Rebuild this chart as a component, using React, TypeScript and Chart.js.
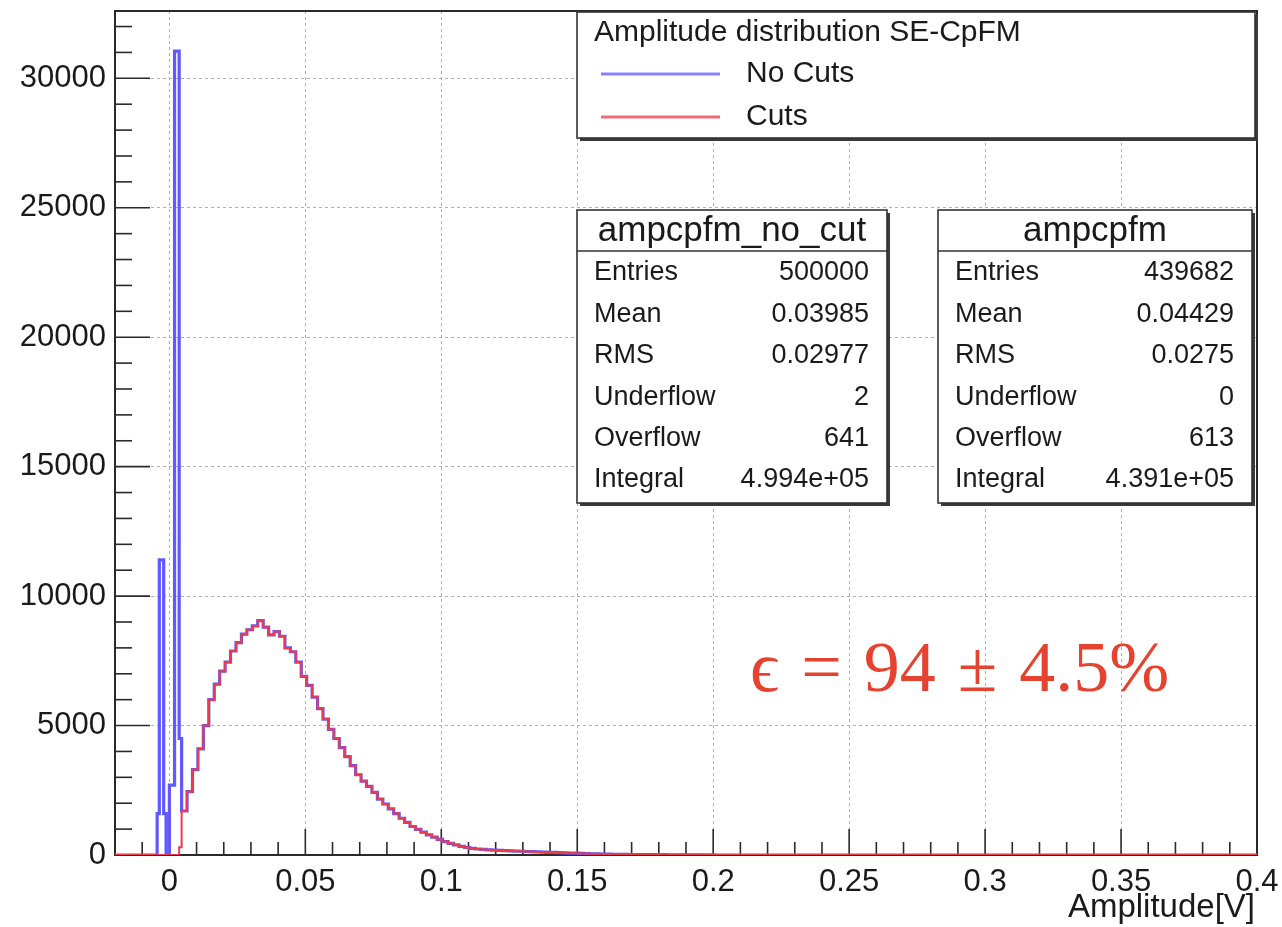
import React, { useEffect, useRef } from "react";
import { Chart, registerables } from "chart.js";

Chart.register(...registerables);

// ---- axis ticks ----
const xTickValues = [0, 0.05, 0.1, 0.15, 0.2, 0.25, 0.3, 0.35, 0.4];
const xTickLabels = ["0", "0.05", "0.1", "0.15", "0.2", "0.25", "0.3", "0.35", "0.4"];
const yTickValues = [0, 5000, 10000, 15000, 20000, 25000, 30000];
const yTickLabels = ["0", "5000", "10000", "15000", "20000", "25000", "30000"];

// ---- histogram: bin low edges near zero (spike region) ----
const spikeEdges = [-0.02, -0.0045, -0.0037, -0.0021, -0.0012, 0.0, 0.0019, 0.0036];
const spikeNoCuts = [0, 1600, 11400, 1600, 0, 2700, 31050, 4500];
const spikeCuts = [0, 0, 0, 0, 0, 0, 0, 300];

// ---- histogram: main distribution (shared by both series) ----
const bulkStart = 0.0045;
const bulkBinWidth = 0.002;
const bulkCounts = [
  1700, 2450, 3300, 4100, 5000, 6000, 6600, 7100, 7450, 7880,
  8200, 8530, 8700, 8850, 9050, 8800, 8500, 8630, 8450, 8000,
  7850, 7450, 6900, 6550, 6100, 5650, 5250, 4850, 4500, 4150,
  3800, 3450, 3100, 2850, 2650, 2420, 2160, 1970, 1780, 1600,
  1420, 1260, 1100, 990, 880, 780, 690, 600, 520, 450,
  390, 330, 290, 255, 232, 215, 200, 190, 180, 170,
  160, 150, 145, 135, 128, 120, 112, 105, 98, 90,
  84, 76, 70, 62, 55, 48, 42, 36, 31, 28,
  25, 23, 20, 19, 17, 15, 14, 12, 11, 10,
  9, 8, 7, 6, 5, 5, 4, 3,
];
const tailEdges = [0.2005, 0.4];
const tailCounts = [0, 0];

// ---- stats boxes ----
const statLabels = ["Entries", "Mean", "RMS", "Underflow", "Overflow", "Integral"];
const noCutStats = ["500000", "0.03985", "0.02977", "2", "641", "4.994e+05"];
const cutStats = ["439682", "0.04429", "0.0275", "0", "613", "4.391e+05"];
const noCutName = "ampcpfm_no_cut";
const cutName = "ampcpfm";

const legendTitle = "Amplitude distribution SE-CpFM";
const seriesNames = ["No Cuts", "Cuts"];
const xTitle = "Amplitude[V]";
const effParts = ["\u03f5", "=", "94", "\u00b1", "4.5%"];

const BLUE = "rgb(98, 88, 255)";
const RED = "rgb(236, 58, 72)";
const SANS = "'Liberation Sans', Arial, Helvetica, sans-serif";
const SERIF = "'Liberation Serif', 'DejaVu Serif', serif";

function buildSeries(spike: number[]) {
  const pts: { x: number; y: number }[] = [];
  spikeEdges.forEach((x, i) => pts.push({ x, y: spike[i] }));
  bulkCounts.forEach((c, i) => pts.push({ x: bulkStart + i * bulkBinWidth, y: c }));
  tailEdges.forEach((x, i) => pts.push({ x, y: tailCounts[i] }));
  return pts;
}

function drawPave(ctx: CanvasRenderingContext2D, x: number, y: number, w: number, h: number) {
  ctx.fillStyle = "#3a3a3a";
  ctx.fillRect(x + 3, y + 3, w, h);
  ctx.fillStyle = "#ffffff";
  ctx.fillRect(x, y, w, h);
  ctx.strokeStyle = "#333";
  ctx.lineWidth = 1.6;
  ctx.strokeRect(x, y, w, h);
}

function drawStats(
  ctx: CanvasRenderingContext2D,
  x: number,
  w: number,
  name: string,
  values: string[]
) {
  const top = 210;
  const h = 293;
  drawPave(ctx, x, top, w, h);
  ctx.beginPath();
  ctx.moveTo(x, top + 41);
  ctx.lineTo(x + w, top + 41);
  ctx.stroke();
  ctx.fillStyle = "#1a1a1a";
  ctx.textBaseline = "middle";
  ctx.font = `35px ${SANS}`;
  ctx.textAlign = "center";
  ctx.fillText(name, x + w / 2, top + 21);
  ctx.font = `27px ${SANS}`;
  statLabels.forEach((lab, i) => {
    const cy = 273 + i * 41.4;
    ctx.textAlign = "left";
    ctx.fillText(lab, x + 17, cy);
    ctx.textAlign = "right";
    ctx.fillText(values[i], x + w - 18, cy);
  });
}

const rootStyle = {
  id: "rootStyle",
  beforeDatasetsDraw(chart: any) {
    const { ctx, chartArea: a, scales } = chart;
    const xs = scales.x;
    const ys = scales.y;
    ctx.save();
    ctx.strokeStyle = "#2a2a2a";
    ctx.lineWidth = 1.6;
    for (let k = -2; k <= 40; k++) {
      const px = xs.getPixelForValue(k / 100);
      const len = k % 5 === 0 ? 26 : 13;
      ctx.beginPath();
      ctx.moveTo(px, a.bottom);
      ctx.lineTo(px, a.bottom - len);
      ctx.stroke();
    }
    for (let k = 0; k <= 32; k++) {
      const py = ys.getPixelForValue(k * 1000);
      const len = k % 5 === 0 ? 35 : 17;
      ctx.beginPath();
      ctx.moveTo(a.left, py);
      ctx.lineTo(a.left + len, py);
      ctx.stroke();
    }
    ctx.lineWidth = 2;
    ctx.strokeRect(a.left, a.top, a.right - a.left, a.bottom - a.top);
    ctx.restore();
  },
  afterDraw(chart: any) {
    const { ctx, chartArea: a } = chart;
    ctx.save();
    // legend
    drawPave(ctx, 577, 12, 678, 126);
    ctx.fillStyle = "#1a1a1a";
    ctx.textBaseline = "middle";
    ctx.textAlign = "left";
    ctx.font = `30px ${SANS}`;
    ctx.fillText(legendTitle, 594, 33);
    const colors = [BLUE, RED];
    const ly = [74, 117];
    seriesNames.forEach((n, i) => {
      ctx.strokeStyle = colors[i];
      ctx.globalAlpha = 0.75;
      ctx.lineWidth = 3;
      ctx.beginPath();
      ctx.moveTo(601, ly[i]);
      ctx.lineTo(720, ly[i]);
      ctx.stroke();
      ctx.globalAlpha = 1;
      ctx.fillStyle = "#1a1a1a";
      ctx.font = `30px ${SANS}`;
      ctx.fillText(n, 746, ly[i]);
    });
    // stats boxes
    drawStats(ctx, 577, 310, noCutName, noCutStats);
    drawStats(ctx, 938, 314, cutName, cutStats);
    // x axis title
    ctx.fillStyle = "#1a1a1a";
    ctx.font = `33px ${SANS}`;
    ctx.textAlign = "right";
    ctx.textBaseline = "alphabetic";
    ctx.fillText(xTitle, a.right - 2, 917);
    // efficiency annotation
    ctx.fillStyle = "#e5432f";
    ctx.font = `72px ${SERIF}`;
    ctx.textAlign = "left";
    let px = 750;
    effParts.forEach((p) => {
      ctx.fillText(p, px, 691);
      px += ctx.measureText(p).width + 22;
    });
    ctx.restore();
  },
};

export default function App() {
  const ref = useRef<HTMLCanvasElement | null>(null);
  useEffect(() => {
    if (!ref.current) return;
    const chart = new Chart(ref.current, {
      type: "line",
      data: {
        datasets: [
          {
            label: seriesNames[0],
            data: buildSeries(spikeNoCuts),
            borderColor: BLUE,
            borderWidth: 3.2,
            stepped: "before",
            pointRadius: 0,
            fill: false,
            order: 1,
          },
          {
            label: seriesNames[1],
            data: buildSeries(spikeCuts),
            borderColor: RED,
            borderWidth: 2,
            stepped: "before",
            pointRadius: 0,
            fill: false,
            order: 0,
          },
        ],
      },
      options: {
        animation: false,
        responsive: false,
        maintainAspectRatio: false,
        layout: { padding: { top: 11, right: 25, left: 0, bottom: 0 } },
        plugins: { legend: { display: false }, tooltip: { enabled: false } },
        scales: {
          x: {
            type: "linear",
            min: -0.02,
            max: 0.4,
            afterBuildTicks: (s: any) => {
              s.ticks = xTickValues.map((v) => ({ value: v }));
            },
            afterFit: (s: any) => {
              s.height = 72;
              s.paddingLeft = 0;
              s.paddingRight = 0;
            },
            ticks: {
              autoSkip: false,
              maxRotation: 0,
              padding: 9,
              color: "#1a1a1a",
              font: { family: SANS, size: 31 },
              callback: (v: any) => {
                const i = xTickValues.findIndex((t) => Math.abs(t - v) < 1e-9);
                return i >= 0 ? xTickLabels[i] : "";
              },
            },
            grid: { color: "#b0b0b0", lineWidth: 1, drawTicks: false },
            border: { display: false, dash: [3, 3] },
          },
          y: {
            type: "linear",
            min: 0,
            max: 32600,
            afterBuildTicks: (s: any) => {
              s.ticks = yTickValues.map((v) => ({ value: v }));
            },
            afterFit: (s: any) => {
              s.width = 115;
              s.paddingTop = 0;
              s.paddingBottom = 0;
            },
            ticks: {
              autoSkip: false,
              padding: 9,
              color: "#1a1a1a",
              font: { family: SANS, size: 31 },
              callback: (v: any) => {
                const i = yTickValues.indexOf(v);
                return i >= 0 ? yTickLabels[i] : "";
              },
            },
            grid: { color: "#b0b0b0", lineWidth: 1, drawTicks: false },
            border: { display: false, dash: [3, 3] },
          },
        },
      },
      plugins: [rootStyle],
    });
    return () => chart.destroy();
  }, []);
  return (
    <div style={{ position: "absolute", left: 0, top: 0, width: 1282, height: 927, background: "#fff" }}>
      <canvas ref={ref} width={1282} height={927} style={{ width: 1282, height: 927, display: "block" }} />
    </div>
  );
}
